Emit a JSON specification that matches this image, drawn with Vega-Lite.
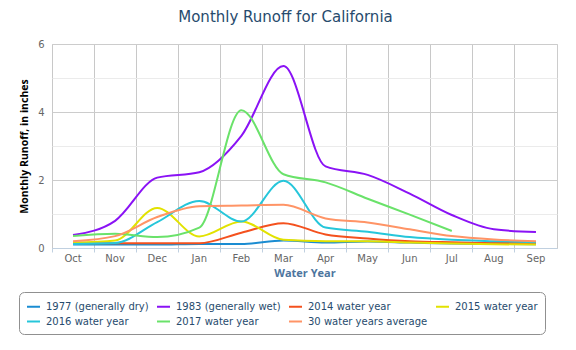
{
  "$schema": "https://vega.github.io/schema/vega-lite/v6.json",
  "autosize": "none",
  "width": 505,
  "height": 204,
  "padding": {"left": 52, "top": 44, "right": 19, "bottom": 102},
  "background": "white",
  "title": {
    "text": "Monthly Runoff for California",
    "font": "DejaVu Sans",
    "fontSize": 15,
    "fontWeight": "normal",
    "color": "#274b6d",
    "anchor": "middle",
    "dx": -19,
    "offset": 14
  },
  "config": {
    "view": {"stroke": "#cccccc"},
    "legend": {"labelFont": "DejaVu Sans", "titleFont": "DejaVu Sans"},
    "axis": {"labelFont": "DejaVu Sans", "titleFont": "Open Sans"}
  },
  "data": {
    "values": [
      {"month": "Oct", "series": "1977 (generally dry)", "value": 0.10},
      {"month": "Nov", "series": "1977 (generally dry)", "value": 0.10},
      {"month": "Dec", "series": "1977 (generally dry)", "value": 0.10},
      {"month": "Jan", "series": "1977 (generally dry)", "value": 0.12},
      {"month": "Feb", "series": "1977 (generally dry)", "value": 0.12},
      {"month": "Mar", "series": "1977 (generally dry)", "value": 0.22},
      {"month": "Apr", "series": "1977 (generally dry)", "value": 0.16},
      {"month": "May", "series": "1977 (generally dry)", "value": 0.19},
      {"month": "Jun", "series": "1977 (generally dry)", "value": 0.16},
      {"month": "Jul", "series": "1977 (generally dry)", "value": 0.13},
      {"month": "Aug", "series": "1977 (generally dry)", "value": 0.12},
      {"month": "Sep", "series": "1977 (generally dry)", "value": 0.11},
      {"month": "Oct", "series": "1983 (generally wet)", "value": 0.38},
      {"month": "Nov", "series": "1983 (generally wet)", "value": 0.80},
      {"month": "Dec", "series": "1983 (generally wet)", "value": 2.07},
      {"month": "Jan", "series": "1983 (generally wet)", "value": 2.23},
      {"month": "Feb", "series": "1983 (generally wet)", "value": 3.30},
      {"month": "Mar", "series": "1983 (generally wet)", "value": 5.35},
      {"month": "Apr", "series": "1983 (generally wet)", "value": 2.40},
      {"month": "May", "series": "1983 (generally wet)", "value": 2.15},
      {"month": "Jun", "series": "1983 (generally wet)", "value": 1.60},
      {"month": "Jul", "series": "1983 (generally wet)", "value": 0.97},
      {"month": "Aug", "series": "1983 (generally wet)", "value": 0.55},
      {"month": "Sep", "series": "1983 (generally wet)", "value": 0.47},
      {"month": "Oct", "series": "2014 water year", "value": 0.14},
      {"month": "Nov", "series": "2014 water year", "value": 0.14},
      {"month": "Dec", "series": "2014 water year", "value": 0.14},
      {"month": "Jan", "series": "2014 water year", "value": 0.14},
      {"month": "Feb", "series": "2014 water year", "value": 0.45},
      {"month": "Mar", "series": "2014 water year", "value": 0.73},
      {"month": "Apr", "series": "2014 water year", "value": 0.40},
      {"month": "May", "series": "2014 water year", "value": 0.28},
      {"month": "Jun", "series": "2014 water year", "value": 0.20},
      {"month": "Jul", "series": "2014 water year", "value": 0.17},
      {"month": "Aug", "series": "2014 water year", "value": 0.15},
      {"month": "Sep", "series": "2014 water year", "value": 0.15},
      {"month": "Oct", "series": "2015 water year", "value": 0.16},
      {"month": "Nov", "series": "2015 water year", "value": 0.22},
      {"month": "Dec", "series": "2015 water year", "value": 1.18},
      {"month": "Jan", "series": "2015 water year", "value": 0.34},
      {"month": "Feb", "series": "2015 water year", "value": 0.78},
      {"month": "Mar", "series": "2015 water year", "value": 0.24},
      {"month": "Apr", "series": "2015 water year", "value": 0.20},
      {"month": "May", "series": "2015 water year", "value": 0.20},
      {"month": "Jun", "series": "2015 water year", "value": 0.16},
      {"month": "Jul", "series": "2015 water year", "value": 0.13},
      {"month": "Aug", "series": "2015 water year", "value": 0.11},
      {"month": "Sep", "series": "2015 water year", "value": 0.10},
      {"month": "Oct", "series": "2016 water year", "value": 0.12},
      {"month": "Nov", "series": "2016 water year", "value": 0.15},
      {"month": "Dec", "series": "2016 water year", "value": 0.76},
      {"month": "Jan", "series": "2016 water year", "value": 1.38},
      {"month": "Feb", "series": "2016 water year", "value": 0.78},
      {"month": "Mar", "series": "2016 water year", "value": 1.98},
      {"month": "Apr", "series": "2016 water year", "value": 0.60},
      {"month": "May", "series": "2016 water year", "value": 0.48},
      {"month": "Jun", "series": "2016 water year", "value": 0.32},
      {"month": "Jul", "series": "2016 water year", "value": 0.24},
      {"month": "Aug", "series": "2016 water year", "value": 0.20},
      {"month": "Sep", "series": "2016 water year", "value": 0.17},
      {"month": "Oct", "series": "2017 water year", "value": 0.35},
      {"month": "Nov", "series": "2017 water year", "value": 0.42},
      {"month": "Dec", "series": "2017 water year", "value": 0.32},
      {"month": "Jan", "series": "2017 water year", "value": 0.60},
      {"month": "Feb", "series": "2017 water year", "value": 4.05},
      {"month": "Mar", "series": "2017 water year", "value": 2.17},
      {"month": "Apr", "series": "2017 water year", "value": 1.93},
      {"month": "May", "series": "2017 water year", "value": 1.45},
      {"month": "Jun", "series": "2017 water year", "value": 0.98},
      {"month": "Jul", "series": "2017 water year", "value": 0.50},
      {"month": "Oct", "series": "30 water years average", "value": 0.20},
      {"month": "Nov", "series": "30 water years average", "value": 0.35},
      {"month": "Dec", "series": "30 water years average", "value": 0.91},
      {"month": "Jan", "series": "30 water years average", "value": 1.23},
      {"month": "Feb", "series": "30 water years average", "value": 1.25},
      {"month": "Mar", "series": "30 water years average", "value": 1.27},
      {"month": "Apr", "series": "30 water years average", "value": 0.87},
      {"month": "May", "series": "30 water years average", "value": 0.75},
      {"month": "Jun", "series": "30 water years average", "value": 0.55},
      {"month": "Jul", "series": "30 water years average", "value": 0.35},
      {"month": "Aug", "series": "30 water years average", "value": 0.25},
      {"month": "Sep", "series": "30 water years average", "value": 0.20}
    ]
  },
  "mark": {"type": "line", "interpolate": "monotone", "strokeWidth": 2},
  "encoding": {
    "x": {
      "field": "month",
      "type": "nominal",
      "sort": ["Oct", "Nov", "Dec", "Jan", "Feb", "Mar", "Apr", "May", "Jun", "Jul", "Aug", "Sep"],
      "scale": {"type": "band", "paddingInner": 0, "paddingOuter": 0},
      "axis": {
        "title": "Water Year",
        "titleColor": "#4d759e",
        "titleFontSize": 11,
        "titleFontWeight": "bold",
        "titlePadding": 4,
        "labelAngle": 0,
        "labelColor": "#666666",
        "labelFontSize": 10,
        "labelPadding": 1,
        "bandPosition": 0,
        "grid": true,
        "gridColor": "#c8c8c8",
        "tickColor": "#c0d0e0",
        "tickSize": 4,
        "domainColor": "#c0d0e0"
      }
    },
    "y": {
      "field": "value",
      "type": "quantitative",
      "scale": {"domain": [0, 6], "nice": false},
      "axis": {
        "title": "Monthly Runoff, in inches",
        "titleColor": "#000000",
        "titleFontSize": 10.5,
        "titleFontWeight": "bold",
        "titlePadding": 8,
        "values": [0, 0.5, 1, 1.5, 2, 2.5, 3, 3.5, 4, 4.5, 5, 5.5, 6],
        "format": "d",
        "labelExpr": "datum.value % 2 === 0 ? datum.label : ''",
        "labelColor": "#666666",
        "labelFontSize": 10,
        "labelPadding": 8,
        "ticks": false,
        "domain": false,
        "gridColor": {"condition": {"test": "datum.value % 2 === 0", "value": "#cccccc"}, "value": "#ebebeb"}
      }
    },
    "color": {
      "field": "series",
      "type": "nominal",
      "sort": ["1977 (generally dry)", "1983 (generally wet)", "2014 water year", "2015 water year", "2016 water year", "2017 water year", "30 water years average"],
      "scale": {
        "domain": ["1977 (generally dry)", "1983 (generally wet)", "2014 water year", "2015 water year", "2016 water year", "2017 water year", "30 water years average"],
        "range": ["#1a8cd2", "#8a12f5", "#f4511e", "#e2e200", "#26c6da", "#6ae26a", "#ff9466"]
      },
      "legend": {
        "title": null,
        "orient": "none",
        "legendX": -33,
        "legendY": 248,
        "direction": "horizontal",
        "columns": 4,
        "columnPadding": 4,
        "rowPadding": 2,
        "padding": 7,
        "strokeColor": "#909090",
        "fillColor": "white",
        "cornerRadius": 5,
        "symbolType": "stroke",
        "symbolSize": 169,
        "symbolStrokeWidth": 2,
        "labelFontSize": 10,
        "labelColor": "#274b6d",
        "labelOffset": 5,
        "labelLimit": 300
      }
    }
  }
}
